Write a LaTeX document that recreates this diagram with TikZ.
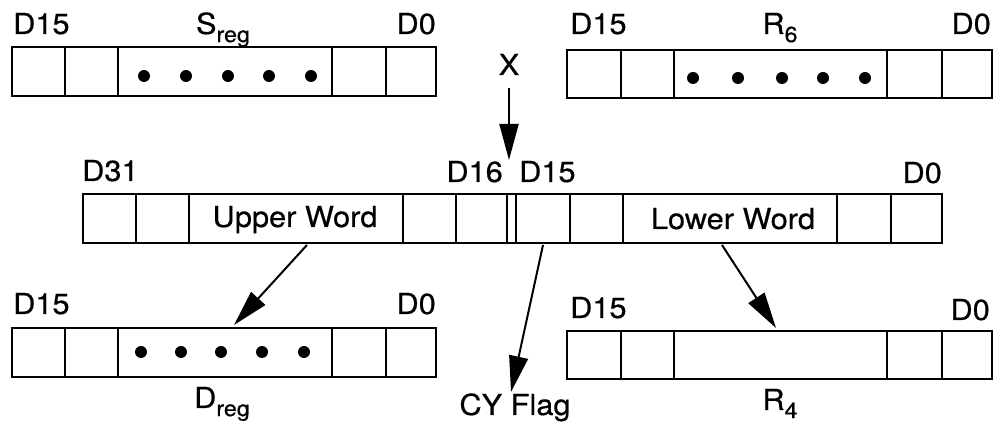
\documentclass[tikz,border=0pt]{standalone}
\usepackage{fontspec}
\usepackage{graphicx}
\setmainfont{TeX Gyre Heros}[FakeBold=0.5]
\usetikzlibrary{arrows.meta}
\newcommand\sx[1]{\scalebox{1.06}[1]{#1}}
\newcommand\subtxt[1]{\raisebox{-0.28em}{\fontsize{22}{23}\selectfont #1}}
\tikzset{
  regline/.style={line width=2pt},
  lbl/.style={font=\fontsize{29}{31}\selectfont, inner sep=0pt},
  arr/.style={line width=2pt, -{Triangle[length=36pt,width=19pt]}},
  regdot/.style={fill=black},
}
\begin{document}
\begin{tikzpicture}[x=1pt,y=-1pt]
\useasboundingbox (0,0) rectangle (997,427);
% top-left register S_reg
\draw[regline] (12,47) rectangle (436,96);
\foreach \x in {65,118,332,386} \draw[regline] (\x,47) -- (\x,96);
\foreach \x in {144,186,228,269,311} \fill[regdot] (\x,76) circle (6);
% top-right register R6
\draw[regline] (567,50) rectangle (992,98);
\foreach \x in {621,674,887,942} \draw[regline] (\x,50) -- (\x,98);
\foreach \x in {693,738,782,823,865} \fill[regdot] (\x,78) circle (6);
% middle 32-bit register
\draw[regline] (83,194) rectangle (942,243);
\foreach \x in {136,189,403,456,507,516,570,623,837,891} \draw[regline] (\x,194) -- (\x,243);
% bottom-left register D_reg
\draw[regline] (12,328) rectangle (436,377);
\foreach \x in {65,118,332,386} \draw[regline] (\x,328) -- (\x,377);
\foreach \x in {141,181,221,262,304} \fill[regdot] (\x,352) circle (6);
% bottom-right register R4
\draw[regline] (567,331) rectangle (992,379);
\foreach \x in {621,674,887,942} \draw[regline] (\x,331) -- (\x,379);
% labels
\node[lbl, anchor=base west] (s15) at (13,34) {\sx{D15}};
\node[lbl, anchor=base] (sreg) at (223,34) {\sx{S\subtxt{reg}}};
\node[lbl, anchor=base east] (s0) at (436,34) {\sx{D0}};
\node[lbl, anchor=base west] (r15) at (570,34) {\sx{D15}};
\node[lbl, anchor=base] (r6) at (780,34) {\sx{R\subtxt{6}}};
\node[lbl, anchor=base east] (r0) at (991,34) {\sx{D0}};
\node[lbl, anchor=base] (xin) at (509,75) {\sx{X}};
\node[lbl, anchor=base west] (d31) at (82,181) {\sx{D31}};
\node[lbl, anchor=base east] (d16) at (503,182) {\sx{D16}};
\node[lbl, anchor=base west] (d15) at (519,182) {\sx{D15}};
\node[lbl, anchor=base east] (d0) at (942,183) {\sx{D0}};
\node[lbl, anchor=base] (uw) at (295,227) {\sx{Upper Word}};
\node[lbl, anchor=base] (lw) at (733,229) {\sx{Lower Word}};
\node[lbl, anchor=base west] (b15) at (13,314) {\sx{D15}};
\node[lbl, anchor=base east] (b0) at (436,314) {\sx{D0}};
\node[lbl, anchor=base] (dreg) at (222,408) {\sx{D\subtxt{reg}}};
\node[lbl, anchor=base west] (c15) at (570,318) {\sx{D15}};
\node[lbl, anchor=base east] (c0) at (990,320) {\sx{D0}};
\node[lbl, anchor=base] (r4) at (780,410) {\sx{R\subtxt{4}}};
\node[lbl, anchor=base] (cy) at (515,415) {\sx{CY Flag}};
% connector end points
\coordinate (xs) at (509,88);
\coordinate (xe) at (509,160);
\coordinate (us) at (307,245);
\coordinate (ue) at (234,325);
\coordinate (cs) at (543,245);
\coordinate (ce) at (511,392);
\coordinate (ls) at (722,245);
\coordinate (le) at (776,328);
\draw[arr] (xs) -- (xe);
\draw[arr] (us) -- (ue);
\draw[arr] (cs) -- (ce);
\draw[arr] (ls) -- (le);
\end{tikzpicture}
\end{document}
